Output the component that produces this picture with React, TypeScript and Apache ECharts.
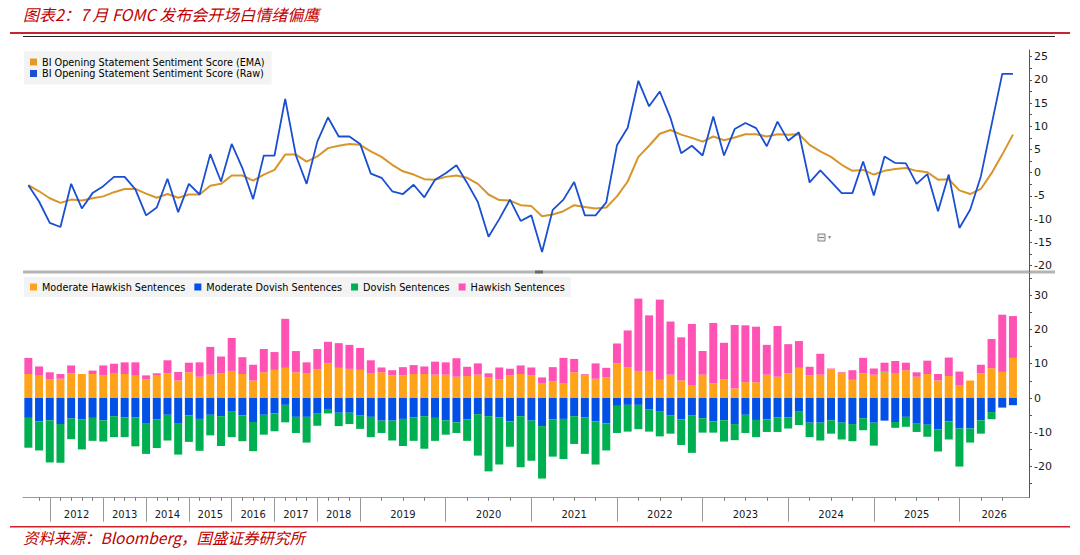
import { useEffect, useRef } from "react";
import * as echarts from "echarts";

const yearLabels = ["2012", "2013", "2014", "2015", "2016", "2017", "2018", "2019", "2020", "2021", "2022", "2023", "2024", "2025", "2026"];
// index of the first meeting of each year on the time axis
const yearStarts = [2, 7, 11, 15, 19, 23, 27, 31, 39, 47, 55, 63, 71, 79, 87];

const emaScore = [
  -2.7, -4.0, -5.5, -6.5, -5.8, -6.0, -5.5, -5.1, -4.2, -3.5,
  -3.5, -4.5, -5.4, -4.6, -5.4, -4.7, -4.7, -2.8, -2.4, -0.6,
  -0.6, -1.7, -0.4, 0.6, 3.9, 3.9, 2.4, 3.5, 5.3, 5.8,
  6.2, 6.0, 4.6, 3.4, 1.7, 0.3, -0.4, -1.4, -1.5, -0.9,
  -0.6, -1.1, -2.4, -4.7, -5.9, -6.0, -7.0, -7.2, -9.4, -9.0,
  -8.3, -7.0, -7.4, -7.7, -7.5, -5.1, -1.9, 3.4, 5.8, 8.4,
  9.2, 8.2, 7.5, 6.7, 7.8, 7.0, 7.6, 8.3, 8.3, 7.8,
  8.3, 8.2, 8.3, 6.0, 4.6, 3.4, 1.7, 0.4, 0.6, -0.4,
  0.4, 0.8, 1.0, 0.4, 0.1, -1.5, -1.4, -3.8, -4.6, -3.5,
  -0.1, 3.9, 8.2,
];

const rawScore = [
  -2.7, -6.2, -10.8, -11.7, -2.4, -7.7, -4.4, -2.9, -0.9, -0.9,
  -3.6, -9.2, -7.5, -1.3, -8.5, -2.4, -4.7, 4.0, -1.9, 6.2,
  1.0, -5.7, 3.7, 3.7, 15.9, 3.7, -2.4, 6.7, 11.9, 7.8,
  7.8, 6.2, -0.2, -1.1, -4.0, -4.6, -2.6, -5.3, -1.5, -0.1,
  1.6, -2.2, -6.3, -13.8, -10.0, -5.8, -10.4, -9.2, -17.1, -8.0,
  -5.8, -2.0, -9.2, -9.2, -6.4, 5.9, 9.7, 19.8, 14.3, 17.5,
  11.8, 4.2, 5.8, 3.7, 12.1, 3.7, 9.4, 10.7, 9.6, 5.7,
  11.0, 6.9, 8.7, -2.1, 0.5, -1.9, -4.4, -4.4, 2.4, -4.9,
  3.5, 2.1, 2.0, -2.4, -0.3, -8.3, -0.4, -11.9, -8.0, -0.8,
  10.3, 21.3, 21.3,
];

const moderateHawkish = [
  7.0, 6.5, 5.5, 5.6, 7.2, 7.0, 7.0, 6.7, 7.3, 7.0,
  6.5, 5.5, 6.7, 7.2, 5.1, 7.5, 6.2, 6.8, 7.2, 7.9,
  7.0, 5.1, 7.5, 8.2, 8.8, 7.5, 7.3, 8.4, 10.1, 8.8,
  8.5, 8.2, 7.3, 7.5, 6.6, 6.6, 7.0, 7.0, 6.8, 6.8,
  6.2, 6.4, 6.8, 6.0, 5.4, 6.6, 7.0, 6.6, 4.2, 4.8,
  4.2, 7.5, 6.8, 5.6, 6.1, 10.1, 9.0, 7.9, 7.9, 5.3,
  6.8, 5.1, 3.8, 6.8, 4.3, 5.5, 2.8, 4.6, 4.6, 6.8,
  6.2, 7.2, 8.8, 6.6, 6.8, 8.4, 7.4, 5.3, 7.2, 6.8,
  7.5, 7.1, 8.1, 6.2, 7.0, 5.1, 6.4, 3.6, 5.1, 7.2,
  8.7, 7.6, 11.7,
];

const moderateDovish = [
  -5.8, -6.8, -6.5, -7.6, -6.0, -6.3, -5.8, -6.5, -5.3, -5.7,
  -5.6, -7.3, -6.3, -4.9, -7.3, -5.1, -6.1, -4.9, -5.3, -3.8,
  -5.1, -7.0, -4.9, -4.5, -2.0, -5.5, -5.5, -4.4, -3.2, -4.3,
  -4.3, -5.0, -5.5, -6.6, -6.6, -6.1, -5.6, -5.3, -5.8, -6.5,
  -7.1, -6.2, -4.7, -5.3, -5.6, -6.8, -5.3, -6.6, -8.2, -6.2,
  -6.1, -5.3, -5.6, -6.8, -7.4, -2.3, -2.0, -2.0, -3.4, -4.0,
  -5.0, -6.2, -5.0, -5.9, -6.8, -6.5, -7.6, -4.9, -6.4, -6.2,
  -5.7, -5.6, -4.0, -7.2, -7.2, -6.5, -7.2, -7.6, -5.9, -7.2,
  -6.6, -7.0, -5.5, -7.5, -7.8, -9.2, -6.8, -8.9, -8.9, -6.5,
  -4.1, -2.8, -2.1,
];

const dovish = [
  -8.7, -8.5, -12.3, -11.3, -6.0, -8.7, -6.7, -6.2, -6.1, -5.7,
  -8.5, -9.0, -8.3, -7.5, -9.2, -7.7, -9.3, -6.0, -8.7, -7.6,
  -7.5, -8.5, -5.8, -5.2, -5.1, -4.7, -7.5, -3.7, -1.3, -3.9,
  -3.3, -4.0, -5.9, -3.6, -5.8, -7.9, -6.9, -9.5, -6.7, -4.2,
  -3.1, -6.3, -12.1, -16.1, -13.8, -7.4, -14.9, -11.7, -15.3, -10.9,
  -11.7, -8.1, -10.7, -12.6, -7.9, -7.9, -7.8, -7.1, -6.4, -7.2,
  -5.4, -7.5, -11.0, -4.2, -3.3, -6.2, -4.7, -5.3, -5.0, -3.7,
  -4.2, -3.3, -3.9, -4.2, -5.2, -3.9, -4.9, -5.0, -3.5, -6.7,
  0.2, -1.7, -2.9, -2.4, -3.5, -6.4, -5.3, -11.1, -4.1, -3.9,
  -2.1, 0.2, 0.2,
];

const hawkish = [
  4.7, 2.7, 2.0, 1.4, 2.3, 0, 1.0, 2.8, 2.7, 3.4,
  3.9, 1.1, 0.5, 3.8, 2.5, 2.8, 4.2, 8.1, 4.9, 9.6,
  4.9, 4.6, 6.8, 5.2, 14.3, 6.2, 3.1, 5.9, 6.3, 7.2,
  7.0, 6.4, 3.7, 1.4, 1.5, 2.4, 2.6, 2.2, 3.8, 3.6,
  5.4, 2.7, 3.3, 1.2, 3.5, 1.9, 2.5, 2.3, 1.8, 4.2,
  7.5, 3.9, 0.2, 4.5, 2.7, 5.8, 10.7, 21.1, 16.2, 23.4,
  15.5, 12.6, 17.8, 6.9, 17.6, 10.6, 18.5, 16.6, 16.2, 8.7,
  14.8, 8.5, 7.8, 2.5, 6.1, 0.2, 0.2, 2.8, 4.5, 1.8,
  2.6, 3.7, 2.2, 1.3, 3.9, 1.9, 5.4, 4.1, 0, 2.5,
  8.5, 16.5, 12.0,
];

const topLabels = [-20, -15, -10, -5, 0, 5, 10, 15, 20, 25];
const topTickMarks = [-20, -17.5, -15, -12.5, -10, -7.5, -5, -2.5, 0, 2.5, 5, 7.5, 10, 12.5, 15, 17.5, 20, 22.5, 25];
const bottomLabels = [-20, -10, 0, 10, 20, 30];
const bottomTickMarks = [-25, -20, -15, -10, -5, 0, 5, 10, 15, 20, 25, 30, 35];

const EMA_NAME = "BI Opening Statement Sentiment Score (EMA)";
const RAW_NAME = "BI Opening Statement Sentiment Score (Raw)";
const barNames = ["Moderate Hawkish Sentences", "Moderate Dovish Sentences", "Dovish Sentences", "Hawkish Sentences"];
const barColors = ["#ffa31a", "#0350e6", "#00b050", "#ff52b4"];

const FONT = "DejaVu Sans";
const RED = "#c00000";

const App = () => {
  const chartRef = useRef<HTMLDivElement | null>(null);

  useEffect(() => {
    if (!chartRef.current) return;
    const chart = echarts.init(chartRef.current, null, { renderer: "svg" });

    // one extra empty slot at the right end of the time axis
    const slots = Array.from({ length: rawScore.length + 1 }, (_, i) => String(i));
    const xMin = -0.5;
    const xMax = slots.length - 0.5;

    // small ticks: every meeting in the short years, every other one later
    const bounds = [0, ...yearStarts, rawScore.length];
    const minorTicks: number[] = [];
    for (let k = 0; k < bounds.length - 1; k++) {
      const step = bounds[k + 1] - bounds[k] > 5 ? 2 : 1;
      for (let t = bounds[k] + step; t < bounds[k + 1]; t += step) minorTicks.push(t);
    }
    const labelPos = yearStarts.map((s, k) => (s + (k < yearStarts.length - 1 ? yearStarts[k + 1] : xMax)) / 2);
    const labelMap: Record<string, string> = {};
    labelPos.forEach((p, k) => (labelMap[p.toFixed(2)] = yearLabels[k]));

    const sideAxis = (grid: number, min: number, max: number, labels: number[], ticks: number[]) => ({
      type: "value",
      gridIndex: grid,
      position: "right",
      min,
      max,
      axisLine: { show: true, onZero: false, lineStyle: { color: "#555", width: 1 } },
      axisTick: { show: true, customValues: ticks, length: 3, lineStyle: { color: "#555" } },
      axisLabel: { customValues: labels, margin: 5, fontSize: 11, color: "#1a1a1a", fontFamily: FONT },
      splitLine: { show: false },
    });

    const legendText = { fontSize: 9.7, color: "#000", fontFamily: FONT };

    const option = {
      animation: false,
      textStyle: { fontFamily: FONT },
      grid: [
        { left: 23, top: 50, width: 1006, height: 221.5 },
        { left: 23, top: 273, width: 1006, height: 224.7 },
      ],
      legend: [
        {
          data: [EMA_NAME, RAW_NAME],
          orient: "vertical",
          left: 24,
          top: 51,
          icon: "rect",
          itemWidth: 7,
          itemHeight: 7,
          itemGap: 1.5,
          padding: [6, 7, 6, 6],
          backgroundColor: "#f3f3f3",
          textStyle: legendText,
        },
        {
          data: barNames,
          orient: "horizontal",
          left: 24,
          top: 277,
          icon: "rect",
          itemWidth: 7,
          itemHeight: 7,
          itemGap: 9,
          padding: [5, 6, 5, 6],
          backgroundColor: "#f3f3f3",
          textStyle: legendText,
        },
      ],
      xAxis: [
        { type: "category", gridIndex: 0, data: slots, show: false },
        { type: "category", gridIndex: 1, data: slots, show: false },
        {
          type: "value",
          gridIndex: 1,
          position: "bottom",
          min: xMin,
          max: xMax,
          axisLine: { show: true, onZero: false, lineStyle: { color: "#999" } },
          axisTick: { show: true, customValues: minorTicks, length: 3, lineStyle: { color: "#777" } },
          axisLabel: {
            customValues: labelPos,
            margin: 12,
            fontSize: 10,
            color: "#1a1a1a",
            fontFamily: FONT,
            formatter: (v: number) => labelMap[v.toFixed(2)] ?? "",
          },
          splitLine: { show: false },
        },
        {
          type: "value",
          gridIndex: 1,
          position: "bottom",
          min: xMin,
          max: xMax,
          axisLine: { show: false, onZero: false },
          axisTick: { show: true, customValues: yearStarts, length: 24, lineStyle: { color: "#999" } },
          axisLabel: { show: false },
          splitLine: { show: false },
        },
      ],
      yAxis: [
        sideAxis(0, -21.29, 26.44, topLabels, topTickMarks),
        sideAxis(1, -29.08, 36.46, bottomLabels, bottomTickMarks),
      ],
      series: [
        {
          name: EMA_NAME,
          type: "line",
          xAxisIndex: 0,
          yAxisIndex: 0,
          data: emaScore,
          showSymbol: false,
          color: "#e29c25",
          lineStyle: { width: 2, color: "#d8952a" },
        },
        {
          name: RAW_NAME,
          type: "line",
          xAxisIndex: 0,
          yAxisIndex: 0,
          data: rawScore,
          showSymbol: false,
          color: "#1a4fd2",
          lineStyle: { width: 1.8, color: "#1a4fd2" },
        },
        ...[moderateHawkish, moderateDovish, dovish, hawkish].map((values, k) => ({
          name: barNames[k],
          type: "bar",
          xAxisIndex: 1,
          yAxisIndex: 1,
          stack: "sentences",
          barWidth: 8,
          data: values,
          color: barColors[k],
          itemStyle: { color: barColors[k] },
        })),
      ],
      graphic: [
        {
          type: "text",
          left: 23,
          top: 6,
          style: {
            text: "图表2：7 月 FOMC 发布会开场白情绪偏鹰",
            fill: RED,
            font: "italic 16px 'Noto Sans CJK SC'",
          },
        },
        { type: "rect", shape: { x: 10, y: 32, width: 1060, height: 2 }, style: { fill: "#c3262e" } },
        { type: "line", shape: { x1: 23, y1: 36.5, x2: 1055, y2: 36.5 }, style: { stroke: "#222", lineWidth: 1 } },
        { type: "rect", shape: { x: 23, y: 270.5, width: 1032, height: 3 }, style: { fill: "#b4b4b4" } },
        { type: "rect", shape: { x: 535, y: 270.5, width: 8, height: 3 }, style: { fill: "#6a6a6a" } },
        { type: "rect", shape: { x: 818, y: 234, width: 7, height: 7 }, style: { fill: "#eee", stroke: "#666", lineWidth: 0.8 } },
        { type: "line", shape: { x1: 819, y1: 237.5, x2: 824, y2: 237.5 }, style: { stroke: "#666", lineWidth: 0.8 } },
        { type: "text", left: 828, top: 233, style: { text: "▾", fill: "#888", font: "6px 'DejaVu Sans'" } },
        { type: "rect", shape: { x: 10, y: 526, width: 1060, height: 1.5 }, style: { fill: "#d0202a" } },
        {
          type: "text",
          left: 23,
          top: 529,
          style: {
            text: "资料来源：Bloomberg，国盛证券研究所",
            fill: RED,
            font: "italic 15.5px 'Noto Sans CJK SC'",
          },
        },
      ],
    };

    chart.setOption(option as any);
    return () => {
      chart.dispose();
    };
  }, []);

  return (
    <div
      ref={chartRef}
      style={{ position: "fixed", left: 0, top: 0, width: 1080, height: 555, background: "#fff" }}
    />
  );
};

export default App;
